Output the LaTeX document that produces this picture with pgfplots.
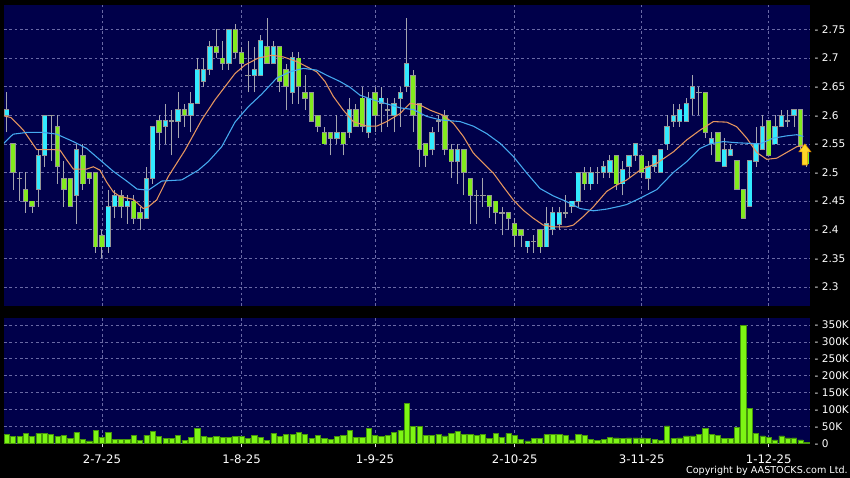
\documentclass[border=0pt]{standalone}
\usepackage{fontspec}
\setmainfont{DejaVu Sans}
\usepackage{pgfplots}
\usepackage{pgfplotstable}
\pgfplotsset{compat=1.18}

\definecolor{plotbg}{RGB}{0,0,74}
\definecolor{gridc}{RGB}{105,105,165}
\definecolor{upc}{RGB}{50,235,255}
\definecolor{dnc}{RGB}{130,235,30}
\definecolor{edgec}{RGB}{150,150,150}
\definecolor{wickc}{RGB}{165,165,175}
\definecolor{ma10}{RGB}{230,150,95}
\definecolor{ma20}{RGB}{70,170,240}
\definecolor{volc}{RGB}{125,245,20}
\definecolor{voledge}{RGB}{70,150,10}
\definecolor{arrowy}{RGB}{255,215,40}
\definecolor{arrowo}{RGB}{220,140,0}

% up arrow marker at the last candle
\pgfdeclareplotmark{bigup}{%
  \pgfpathmoveto{\pgfpoint{0pt}{7.9pt}}%
  \pgfpathlineto{\pgfpoint{4.6pt}{1.9pt}}%
  \pgfpathlineto{\pgfpoint{2.1pt}{1.9pt}}%
  \pgfpathlineto{\pgfpoint{2.1pt}{-7.9pt}}%
  \pgfpathlineto{\pgfpoint{-2.1pt}{-7.9pt}}%
  \pgfpathlineto{\pgfpoint{-2.1pt}{1.9pt}}%
  \pgfpathlineto{\pgfpoint{-4.6pt}{1.9pt}}%
  \pgfpathclose
  \pgfusepathqfillstroke}

% daily candles: index, open, high, low, close
\pgfplotstableread{
i o h l c
0 2.60 2.64 2.57 2.61
1 2.55 2.55 2.47 2.50
2 2.49 2.50 2.45 2.49
3 2.47 2.50 2.43 2.45
4 2.45 2.45 2.43 2.44
5 2.47 2.54 2.44 2.53
6 2.53 2.60 2.51 2.60
7 2.60 2.60 2.52 2.60
8 2.58 2.60 2.48 2.51
9 2.49 2.52 2.44 2.47
10 2.49 2.49 2.44 2.44
11 2.46 2.55 2.41 2.54
12 2.53 2.55 2.47 2.48
13 2.50 2.50 2.48 2.49
14 2.50 2.50 2.36 2.37
15 2.39 2.40 2.35 2.37
16 2.37 2.47 2.36 2.44
17 2.44 2.47 2.42 2.46
18 2.46 2.47 2.42 2.44
19 2.44 2.46 2.41 2.45
20 2.45 2.46 2.41 2.42
21 2.43 2.44 2.40 2.42
22 2.42 2.51 2.42 2.49
23 2.49 2.58 2.48 2.58
24 2.59 2.60 2.54 2.57
25 2.58 2.62 2.55 2.59
26 2.59 2.61 2.53 2.59
27 2.59 2.64 2.56 2.61
28 2.61 2.62 2.58 2.60
29 2.60 2.64 2.57 2.62
30 2.62 2.70 2.62 2.68
31 2.66 2.70 2.65 2.68
32 2.68 2.73 2.67 2.72
33 2.72 2.75 2.70 2.71
34 2.70 2.73 2.68 2.69
35 2.69 2.75 2.68 2.75
36 2.75 2.76 2.70 2.71
37 2.71 2.72 2.68 2.69
38 2.67 2.73 2.64 2.67
39 2.67 2.72 2.64 2.68
40 2.67 2.74 2.67 2.73
41 2.72 2.77 2.69 2.69
42 2.69 2.73 2.69 2.72
43 2.72 2.72 2.64 2.66
44 2.68 2.69 2.61 2.65
45 2.64 2.71 2.62 2.70
46 2.70 2.71 2.62 2.65
47 2.64 2.67 2.61 2.63
48 2.64 2.64 2.59 2.59
49 2.60 2.60 2.57 2.58
50 2.57 2.58 2.55 2.55
51 2.57 2.57 2.53 2.56
52 2.56 2.60 2.55 2.57
53 2.57 2.57 2.53 2.55
54 2.57 2.63 2.56 2.61
55 2.61 2.62 2.58 2.58
56 2.63 2.65 2.57 2.58
57 2.57 2.64 2.56 2.63
58 2.64 2.65 2.57 2.60
59 2.62 2.65 2.57 2.63
60 2.61 2.63 2.58 2.61
61 2.60 2.63 2.57 2.62
62 2.63 2.65 2.58 2.64
63 2.65 2.77 2.64 2.69
64 2.67 2.68 2.57 2.60
65 2.62 2.62 2.51 2.54
66 2.55 2.55 2.51 2.53
67 2.54 2.58 2.53 2.57
68 2.59 2.60 2.57 2.59
69 2.60 2.61 2.53 2.54
70 2.54 2.55 2.49 2.52
71 2.52 2.55 2.48 2.54
72 2.54 2.54 2.46 2.50
73 2.49 2.49 2.41 2.46
74 2.46 2.47 2.41 2.46
75 2.46 2.49 2.44 2.46
76 2.46 2.46 2.42 2.44
77 2.45 2.45 2.41 2.43
78 2.43 2.44 2.39 2.43
79 2.43 2.43 2.40 2.42
80 2.41 2.42 2.37 2.39
81 2.40 2.40 2.37 2.39
82 2.37 2.38 2.36 2.38
83 2.38 2.39 2.36 2.38
84 2.40 2.40 2.36 2.37
85 2.37 2.44 2.37 2.41
86 2.40 2.44 2.39 2.43
87 2.41 2.44 2.40 2.43
88 2.43 2.46 2.42 2.43
89 2.44 2.45 2.43 2.45
90 2.45 2.50 2.44 2.50
91 2.50 2.51 2.47 2.48
92 2.48 2.51 2.47 2.50
93 2.50 2.51 2.48 2.50
94 2.50 2.52 2.49 2.51
95 2.50 2.53 2.49 2.52
96 2.53 2.53 2.47 2.48
97 2.48 2.52 2.46 2.505
98 2.51 2.53 2.49 2.53
99 2.53 2.55 2.52 2.55
100 2.53 2.53 2.49 2.50
101 2.49 2.52 2.47 2.51
102 2.51 2.53 2.50 2.53
103 2.50 2.54 2.50 2.54
104 2.55 2.60 2.54 2.58
105 2.59 2.62 2.58 2.60
106 2.59 2.62 2.58 2.61
107 2.59 2.63 2.59 2.62
108 2.63 2.67 2.60 2.65
109 2.64 2.65 2.60 2.64
110 2.64 2.64 2.56 2.57
111 2.55 2.57 2.53 2.56
112 2.57 2.57 2.52 2.52
113 2.51 2.56 2.51 2.54
114 2.53 2.55 2.53 2.54
115 2.52 2.52 2.47 2.47
116 2.47 2.47 2.42 2.42
117 2.44 2.52 2.44 2.52
118 2.52 2.58 2.51 2.55
119 2.54 2.60 2.54 2.58
120 2.59 2.59 2.53 2.53
121 2.55 2.60 2.55 2.58
122 2.58 2.61 2.58 2.60
123 2.59 2.61 2.58 2.59
124 2.60 2.61 2.58 2.61
125 2.61 2.61 2.54 2.545
126 2.535 2.54 2.51 2.515
}\candles

% daily volume, thousands
\pgfplotstableread{
i v
0 26.5
1 21.6
2 19.6
3 29.4
4 21.6
5 29.4
6 28.4
7 27.5
8 21.6
9 23.5
10 14.7
11 31.4
12 12.7
13 6.9
14 39.2
15 16.7
16 32.4
17 12.7
18 12.7
19 11.8
20 23.5
21 7.8
22 24.5
23 34.3
24 19.6
25 14.7
26 14.7
27 22.5
28 9.8
29 18.6
30 45.1
31 21.6
32 16.7
33 19.6
34 16.7
35 17.6
36 19.6
37 19.6
38 14.7
39 24.5
40 18.6
41 9.8
42 29.4
43 21.6
44 27.5
45 25.5
46 32.4
47 27.5
48 14.7
49 23.5
50 14.7
51 11.8
52 21.6
53 24.5
54 37.3
55 18.6
56 16.7
57 44.1
58 24.5
59 20.6
60 23.5
61 31.4
62 39.2
63 117.6
64 50
65 50
66 24.5
67 23.7
68 27.6
69 21.7
70 29.6
71 34.5
72 27.6
73 27.6
74 23.7
75 26.6
76 13.8
77 29.6
78 17.7
79 29.6
80 23.7
81 11.8
82 6.9
83 13.8
84 14.8
85 25.6
86 25.6
87 26.6
88 22.7
89 9.9
90 26.6
91 23.7
92 11.8
93 7.9
94 12.8
95 16.8
96 15.8
97 14.8
98 15.8
99 15.8
100 15.8
101 13.8
102 10.8
103 8.9
104 51.3
105 14.8
106 15.8
107 21.7
108 21.7
109 27.6
110 43.4
111 27.6
112 22.7
113 14.8
114 14.8
115 46.3
116 350
117 103.5
118 28.6
119 21.7
120 16.8
121 9.9
122 21.7
123 15.8
124 15.8
125 9.9
126 2
}\volume

\pgfplotsset{
  chartbase/.style={
    scale only axis, anchor=south west,
    width=604.5pt,
    xmin=-0.425, xmax=126.5,
    axis background/.style={fill=plotbg},
    axis line style={draw=none},
    grid=major,
    grid style={gridc, line width=0.5pt, dash pattern=on 2pt off 2pt},
    xtick={15,37,58,80,100,120},
    yticklabel pos=right,
    ytick style={draw=none},
    tick label style={font=\fontsize{7.9}{9}\selectfont, text=white},
  },
  candlebar/.style={draw=none, mark=none, forget plot,
    error bars/.cd, y dir=both, y explicit, error mark=none,
    error bar style={solid, line cap=butt, #1}},
}

\begin{document}
\begin{tikzpicture}
% whole canvas: 850 x 478 px at 0.75pt per px
\useasboundingbox (0pt,0pt) rectangle (637.5pt,358.5pt);
\fill[black] (0pt,0pt) rectangle (637.5pt,358.5pt);

% price panel
\begin{axis}[chartbase,
  at={(3pt,129pt)}, height=225.75pt,
  ymin=2.2666, ymax=2.7928,
  major tick length=0pt,
  xticklabels={,,,,,},
  ytick={2.3,2.35,2.4,2.45,2.5,2.55,2.6,2.65,2.7,2.75},
  yticklabels={- 2.3,- 2.35,- 2.4,- 2.45,- 2.5,- 2.55,- 2.6,- 2.65,- 2.7,- 2.75},
]
% wicks
\addplot[draw=none, mark=none, forget plot,
  error bars/.cd, y dir=plus, y explicit, error mark=none,
  error bar style={solid, draw=wickc, line width=0.75pt}]
  table[x=i, y=l, y error expr=\thisrow{h}-\thisrow{l}] {\candles};
% body outlines
\addplot[candlebar={draw=edgec, line width=4pt}]
  table[x=i, y expr=(\thisrow{o}+\thisrow{c})/2,
        y error expr=abs(\thisrow{c}-\thisrow{o})/2+0.001] {\candles};
% rising bodies
\addplot[x filter/.expression={\thisrow{c}>\thisrow{o} ? x : nan},
  candlebar={draw=upc, line width=2.8pt}]
  table[x=i, y expr=(\thisrow{o}+\thisrow{c})/2,
        y error expr=abs(\thisrow{c}-\thisrow{o})/2-0.0006] {\candles};
% falling bodies
\addplot[x filter/.expression={\thisrow{c}<\thisrow{o} ? x : nan},
  candlebar={draw=dnc, line width=2.8pt}]
  table[x=i, y expr=(\thisrow{o}+\thisrow{c})/2,
        y error expr=abs(\thisrow{c}-\thisrow{o})/2-0.0006] {\candles};

% short moving average
\addplot[ma10, line width=0.8pt, mark=none] coordinates {
(-0.43,2.599) (0.68,2.596) (1.04,2.592) (2.62,2.574) (3.67,2.557) (4.72,2.54)
(7.34,2.54) (8.4,2.539) (9.45,2.522) (10.49,2.506) (12.6,2.506) (13.64,2.51)
(14.69,2.504) (15.75,2.483) (16.79,2.466) (17.84,2.458) (19.94,2.453) (21.51,2.437)
(22.3,2.44) (23.62,2.452) (25.45,2.493) (28.08,2.539) (30.71,2.592) (32.8,2.627)
(34.38,2.65) (35.95,2.673) (37.53,2.688) (39.62,2.70) (41.73,2.705) (43.56,2.702)
(45.67,2.694) (47.24,2.685) (48.82,2.676) (50.13,2.659) (51.43,2.633) (53.01,2.609)
(54.58,2.589) (56.69,2.581) (58.27,2.581) (59.84,2.589) (61.94,2.603) (63.51,2.621)
(65.09,2.618) (66.66,2.609) (68.76,2.6) (70.33,2.586) (71.91,2.563) (73.48,2.534)
(75.06,2.516) (76.63,2.499) (78.21,2.475) (79.78,2.452) (81.35,2.434) (82.93,2.42)
(84.5,2.408) (86.08,2.405) (88.19,2.405) (89.23,2.408) (90.8,2.423) (92.38,2.44)
(94.49,2.467) (96.06,2.478) (97.64,2.487) (99.73,2.504) (102.36,2.516) (104.98,2.536)
(107.09,2.557) (109.18,2.574) (111.28,2.589) (113.39,2.588) (114.96,2.58) (116.54,2.56)
(118.11,2.535) (119.69,2.523) (121.26,2.525) (122.83,2.535) (124.41,2.545) (125.45,2.548)
};
% long moving average
\addplot[ma20, line width=0.8pt, mark=none] coordinates {
(-0.43,2.551) (0.52,2.562) (1.04,2.567) (3.15,2.570) (5.77,2.570) (7.87,2.567)
(10.49,2.554) (12.6,2.542) (14.69,2.522) (16.79,2.502) (18.9,2.485) (20.52,2.471)
(22.3,2.469) (24.41,2.485) (27.56,2.487) (30.17,2.504) (31.75,2.519) (33.86,2.545)
(35.95,2.588) (38.05,2.615) (40.16,2.637) (42.52,2.665) (44.61,2.676) (46.71,2.682)
(48.82,2.679) (50.39,2.67) (52.49,2.659) (54.06,2.649) (55.65,2.635) (57.73,2.627)
(59.84,2.62) (61.94,2.613) (64.03,2.61) (66.14,2.598) (68.24,2.592) (71.39,2.589)
(73.48,2.581) (75.59,2.568) (77.69,2.551) (79.78,2.528) (81.89,2.499) (83.98,2.472)
(86.08,2.459) (88.19,2.449) (90.28,2.437) (92.38,2.433) (94.49,2.436) (96.58,2.441)
(97.64,2.444) (99.73,2.455) (102.36,2.47) (104.98,2.5) (107.09,2.519) (109.18,2.542)
(110.76,2.55) (112.85,2.554) (114.96,2.552) (118.63,2.55) (120.72,2.56) (122.83,2.564)
(124.41,2.566) (125.45,2.563)
};
% marker on the latest bar
\addplot[only marks, mark=bigup,
  mark options={fill=arrowy, draw=arrowo, line width=0.4pt}]
  coordinates {(125.7,2.5315)};
\end{axis}

% volume panel
\begin{axis}[chartbase,
  at={(3pt,26pt)}, height=93.75pt,
  ymin=0, ymax=369.8,
  major tick length=3pt, tick align=outside,
  xtick pos=bottom,
  xtick style={draw=white!80!gray, line width=0.6pt},
  xticklabels={2-7-25,1-8-25,1-9-25,2-10-25,3-11-25,1-12-25},
  xticklabel style={yshift=-2pt, font=\fontsize{8.8}{10}\selectfont},
  ytick={0,50,100,150,200,250,300,350},
  yticklabels={- 0,- 50K,- 100K,- 150K,- 200K,- 250K,- 300K,- 350K},
  yticklabel style={xshift=-3pt},
]
\addplot[ybar, bar width=3.9pt, bar shift=0pt, fill=volc, draw=voledge,
  line width=0.4pt] table[x=i, y=v] {\volume};
\end{axis}

\node[anchor=east, text=white, font=\fontsize{7.2}{8}\selectfont, inner sep=0pt]
  at (636pt,5.6pt) {Copyright by AASTOCKS.com Ltd.};
\end{tikzpicture}
\end{document}
